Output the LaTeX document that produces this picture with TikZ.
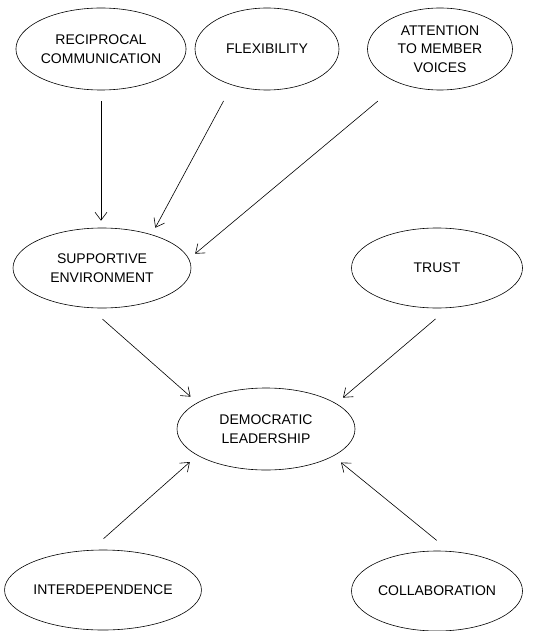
\documentclass[tikz,border=0pt]{standalone}
\usepackage{fontspec}
\setmainfont{Liberation Sans}
\usetikzlibrary{shapes.geometric,arrows.meta}
\begin{document}
\begin{tikzpicture}[x=1pt,y=-1pt,
  oval/.style={draw, ellipse, inner sep=0pt, align=center,
    font=\fontsize{14}{18.5}\selectfont, line width=0.6pt},
  link/.style={draw, line width=0.6pt, -{Straight Barb[length=8pt,width=12pt]}}]
\useasboundingbox[fill=white] (0,0) rectangle (535,631);
\node[oval, minimum width=144pt, minimum height=82pt] (rec) at (101,49) {RECIPROCAL\\COMMUNICATION};
\node[oval, minimum width=144pt, minimum height=82pt] (flex) at (267,49) {FLEXIBILITY};
\node[oval, minimum width=145pt, minimum height=82pt] (att) at (440,49) {ATTENTION\\TO MEMBER\\VOICES};
\node[oval, minimum width=178pt, minimum height=80pt] (sup) at (102,268) {SUPPORTIVE\\ENVIRONMENT};
\node[oval, minimum width=171pt, minimum height=80pt] (trust) at (437,268) {TRUST};
\node[oval, minimum width=178pt, minimum height=82pt] (dem) at (266,429) {DEMOCRATIC\\LEADERSHIP};
\node[oval, minimum width=178pt, minimum height=80pt] (inter) at (103,590) {INTERDEPENDENCE};
\node[oval, minimum width=171pt, minimum height=80pt] (coll) at (437,591) {COLLABORATION};

\draw[link, shorten <=11pt, shorten >=7pt] (rec.south) -- (rec.south |- sup.north);
\draw[link, shorten <=18pt, shorten >=7.7pt] (flex.226.2) -- (sup.34);
\draw[link, shorten <=28pt, shorten >=8pt] (att.220.2) -- (sup.6.8);
\draw[link, shorten <=17pt, shorten >=9pt] (sup.253.7) -- (dem.159.3);
\draw[link, shorten <=17pt, shorten >=9pt] (trust.286.3) -- (dem.20.7);
\draw[link, shorten <=17pt, shorten >=10pt] (inter.107.9) -- (dem.201.1);
\draw[link, shorten <=17pt, shorten >=10pt] (coll.72.1) -- (dem.338.9);
\end{tikzpicture}
\end{document}
